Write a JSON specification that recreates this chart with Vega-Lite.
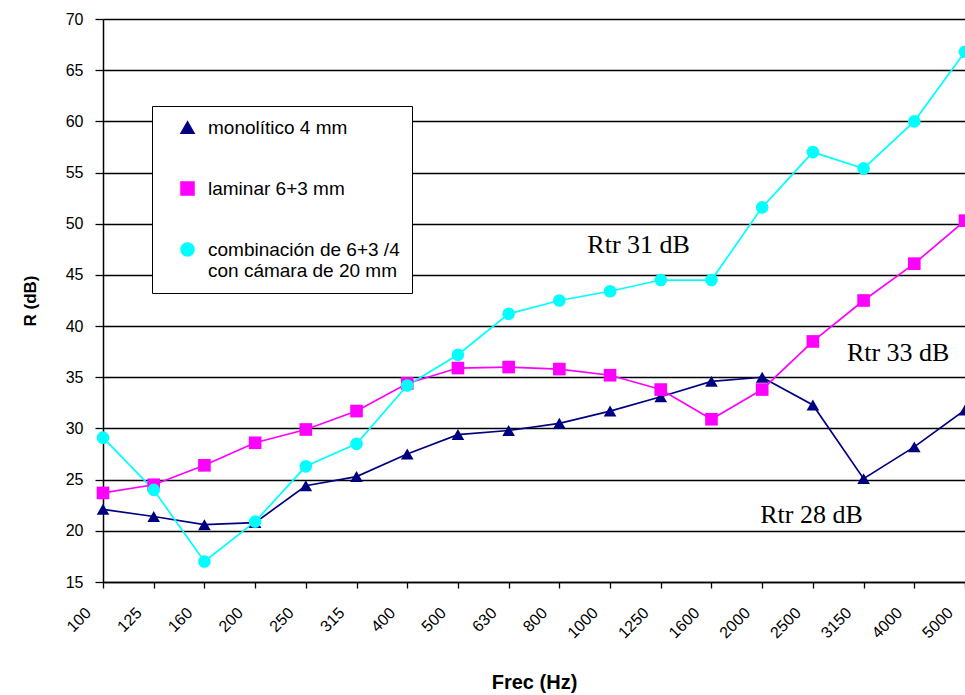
{
  "$schema": "https://vega.github.io/schema/vega-lite/v6.json",
  "width": 862,
  "height": 563,
  "autosize": {"type": "none"},
  "padding": {"left": 103, "top": 19, "right": 0, "bottom": 113},
  "background": "white",
  "config": {
    "view": {"stroke": null},
    "font": "Liberation Sans",
    "axis": {"domainColor": "#000", "tickColor": "#000", "labelColor": "#000", "titleColor": "#000", "domainWidth": 1.5, "tickWidth": 1.3},
    "legend": {
      "title": null, "orient": "none", "legendX": 49, "legendY": 87,
      "fillColor": "white", "strokeColor": "#000", "padding": 12,
      "labelFontSize": 19, "labelColor": "#000", "labelLimit": 400,
      "symbolSize": 170, "rowPadding": 40, "labelOffset": 11, "symbolOffset": 14
    }
  },
  "datasets": {
    "series": [
      {"freq": "100", "serie": "monolítico 4 mm", "R": 22.1},
      {"freq": "125", "serie": "monolítico 4 mm", "R": 21.4},
      {"freq": "160", "serie": "monolítico 4 mm", "R": 20.6},
      {"freq": "200", "serie": "monolítico 4 mm", "R": 20.8},
      {"freq": "250", "serie": "monolítico 4 mm", "R": 24.4},
      {"freq": "315", "serie": "monolítico 4 mm", "R": 25.3},
      {"freq": "400", "serie": "monolítico 4 mm", "R": 27.5},
      {"freq": "500", "serie": "monolítico 4 mm", "R": 29.4},
      {"freq": "630", "serie": "monolítico 4 mm", "R": 29.8},
      {"freq": "800", "serie": "monolítico 4 mm", "R": 30.5},
      {"freq": "1000", "serie": "monolítico 4 mm", "R": 31.7},
      {"freq": "1250", "serie": "monolítico 4 mm", "R": 33.1},
      {"freq": "1600", "serie": "monolítico 4 mm", "R": 34.6},
      {"freq": "2000", "serie": "monolítico 4 mm", "R": 35.0},
      {"freq": "2500", "serie": "monolítico 4 mm", "R": 32.3},
      {"freq": "3150", "serie": "monolítico 4 mm", "R": 25.1},
      {"freq": "4000", "serie": "monolítico 4 mm", "R": 28.2},
      {"freq": "5000", "serie": "monolítico 4 mm", "R": 31.8},
      {"freq": "100", "serie": "laminar 6+3 mm", "R": 23.7},
      {"freq": "125", "serie": "laminar 6+3 mm", "R": 24.5},
      {"freq": "160", "serie": "laminar 6+3 mm", "R": 26.4},
      {"freq": "200", "serie": "laminar 6+3 mm", "R": 28.6},
      {"freq": "250", "serie": "laminar 6+3 mm", "R": 29.9},
      {"freq": "315", "serie": "laminar 6+3 mm", "R": 31.7},
      {"freq": "400", "serie": "laminar 6+3 mm", "R": 34.4},
      {"freq": "500", "serie": "laminar 6+3 mm", "R": 35.9},
      {"freq": "630", "serie": "laminar 6+3 mm", "R": 36.0},
      {"freq": "800", "serie": "laminar 6+3 mm", "R": 35.8},
      {"freq": "1000", "serie": "laminar 6+3 mm", "R": 35.2},
      {"freq": "1250", "serie": "laminar 6+3 mm", "R": 33.8},
      {"freq": "1600", "serie": "laminar 6+3 mm", "R": 30.9},
      {"freq": "2000", "serie": "laminar 6+3 mm", "R": 33.8},
      {"freq": "2500", "serie": "laminar 6+3 mm", "R": 38.5},
      {"freq": "3150", "serie": "laminar 6+3 mm", "R": 42.5},
      {"freq": "4000", "serie": "laminar 6+3 mm", "R": 46.1},
      {"freq": "5000", "serie": "laminar 6+3 mm", "R": 50.3},
      {"freq": "100", "serie": "combinación de 6+3 /4 con cámara de 20 mm", "R": 29.1},
      {"freq": "125", "serie": "combinación de 6+3 /4 con cámara de 20 mm", "R": 24.0},
      {"freq": "160", "serie": "combinación de 6+3 /4 con cámara de 20 mm", "R": 17.0},
      {"freq": "200", "serie": "combinación de 6+3 /4 con cámara de 20 mm", "R": 20.9},
      {"freq": "250", "serie": "combinación de 6+3 /4 con cámara de 20 mm", "R": 26.3},
      {"freq": "315", "serie": "combinación de 6+3 /4 con cámara de 20 mm", "R": 28.5},
      {"freq": "400", "serie": "combinación de 6+3 /4 con cámara de 20 mm", "R": 34.2},
      {"freq": "500", "serie": "combinación de 6+3 /4 con cámara de 20 mm", "R": 37.2},
      {"freq": "630", "serie": "combinación de 6+3 /4 con cámara de 20 mm", "R": 41.2},
      {"freq": "800", "serie": "combinación de 6+3 /4 con cámara de 20 mm", "R": 42.5},
      {"freq": "1000", "serie": "combinación de 6+3 /4 con cámara de 20 mm", "R": 43.4},
      {"freq": "1250", "serie": "combinación de 6+3 /4 con cámara de 20 mm", "R": 44.5},
      {"freq": "1600", "serie": "combinación de 6+3 /4 con cámara de 20 mm", "R": 44.5},
      {"freq": "2000", "serie": "combinación de 6+3 /4 con cámara de 20 mm", "R": 51.6},
      {"freq": "2500", "serie": "combinación de 6+3 /4 con cámara de 20 mm", "R": 57.0},
      {"freq": "3150", "serie": "combinación de 6+3 /4 con cámara de 20 mm", "R": 55.4},
      {"freq": "4000", "serie": "combinación de 6+3 /4 con cámara de 20 mm", "R": 60.0},
      {"freq": "5000", "serie": "combinación de 6+3 /4 con cámara de 20 mm", "R": 66.8}
    ],
    "notes": [
      {"freq": "800", "R": 47.1, "label": "Rtr 31 dB"},
      {"freq": "2500", "R": 36.6, "label": "Rtr 33 dB"},
      {"freq": "2000", "R": 20.8, "label": "Rtr 28 dB"}
    ]
  },
  "encoding": {
    "x": {
      "field": "freq", "type": "ordinal",
      "sort": ["100","125","160","200","250","315","400","500","630","800","1000","1250","1600","2000","2500","3150","4000","5000"],
      "scale": {"type": "point", "padding": 0},
      "axis": {"title": "Frec (Hz)", "titleFontSize": 20, "titleFontWeight": "bold", "titlePadding": 32, "labelAngle": -45, "labelAlign": "right", "labelBaseline": "middle", "labelFontSize": 16, "labelPadding": 22, "labelOffset": -15, "tickSize": 6, "grid": false}
    },
    "y": {
      "field": "R", "type": "quantitative",
      "scale": {"domain": [15, 70], "nice": false, "zero": false},
      "axis": {"title": "R (dB)", "titleFontSize": 17, "titleFontWeight": "bold", "titlePadding": 26, "labelFontSize": 16, "labelPadding": 12, "tickSize": 8, "values": [15,20,25,30,35,40,45,50,55,60,65,70], "grid": true, "gridColor": "#000", "gridWidth": 1.5}
    }
  },
  "layer": [
    {
      "data": {"name": "series"},
      "mark": {"type": "line", "strokeWidth": 1.7},
      "encoding": {
        "color": {"field": "serie", "type": "nominal",
          "scale": {"domain": ["monolítico 4 mm", "laminar 6+3 mm", "combinación de 6+3 /4 con cámara de 20 mm"], "range": ["#000080", "#FF00FF", "#00FFFF"]},
          "legend": {"labelExpr": "datum.label == 'combinación de 6+3 /4 con cámara de 20 mm' ? ['combinación de 6+3 /4', 'con cámara de 20 mm'] : datum.label"}}
      }
    },
    {
      "data": {"name": "series"},
      "mark": {"type": "point", "filled": true, "opacity": 1, "size": 160},
      "encoding": {
        "color": {"field": "serie", "type": "nominal",
          "scale": {"domain": ["monolítico 4 mm", "laminar 6+3 mm", "combinación de 6+3 /4 con cámara de 20 mm"], "range": ["#000080", "#FF00FF", "#00FFFF"]},
          "legend": {"labelExpr": "datum.label == 'combinación de 6+3 /4 con cámara de 20 mm' ? ['combinación de 6+3 /4', 'con cámara de 20 mm'] : datum.label"}},
        "shape": {"field": "serie", "type": "nominal",
          "scale": {"domain": ["monolítico 4 mm", "laminar 6+3 mm", "combinación de 6+3 /4 con cámara de 20 mm"], "range": ["triangle-up", "square", "circle"]},
          "legend": {"labelExpr": "datum.label == 'combinación de 6+3 /4 con cámara de 20 mm' ? ['combinación de 6+3 /4', 'con cámara de 20 mm'] : datum.label"}}
      }
    },
    {
      "data": {"name": "notes"},
      "transform": [{"filter": "datum.label == 'Rtr 31 dB'"}],
      "mark": {"type": "text", "font": "Liberation Serif", "fontSize": 26, "color": "#000", "align": "left", "baseline": "alphabetic", "dx": 28},
      "encoding": {"text": {"field": "label"}}
    },
    {
      "data": {"name": "notes"},
      "transform": [{"filter": "datum.label == 'Rtr 33 dB'"}],
      "mark": {"type": "text", "font": "Liberation Serif", "fontSize": 26, "color": "#000", "align": "left", "baseline": "alphabetic", "dx": 34},
      "encoding": {"text": {"field": "label"}}
    },
    {
      "data": {"name": "notes"},
      "transform": [{"filter": "datum.label == 'Rtr 28 dB'"}],
      "mark": {"type": "text", "font": "Liberation Serif", "fontSize": 26, "color": "#000", "align": "left", "baseline": "alphabetic", "dx": -2},
      "encoding": {"text": {"field": "label"}}
    }
  ]
}
